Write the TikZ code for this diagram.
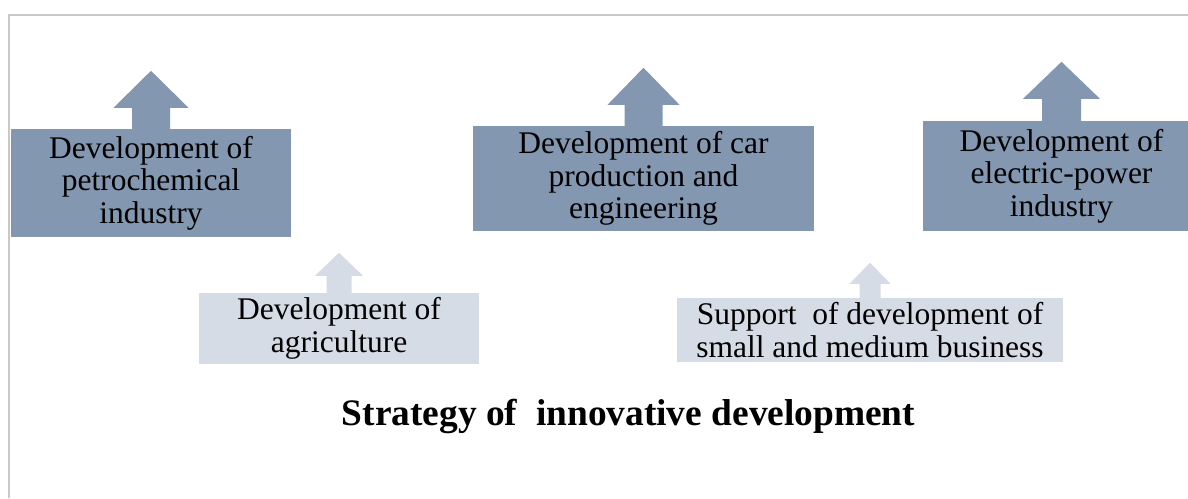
\documentclass[tikz,border=0pt]{standalone}
\usepackage{fontspec}
\setmainfont{Liberation Serif}
\definecolor{boxdark}{RGB}{132,151,176}
\definecolor{boxlight}{RGB}{214,220,229}
\definecolor{framegray}{RGB}{200,200,200}
\begin{document}
\begin{tikzpicture}[x=1pt,y=-1pt,
  boxtext/.style={font=\fontsize{31.5}{32.5}\selectfont, align=center, inner sep=0pt, text=black},
  darkbox/.style={boxtext, fill=boxdark},
  lightbox/.style={boxtext, fill=boxlight},
  titletext/.style={font=\fontsize{37.4}{40}\selectfont\bfseries, inner sep=0pt, anchor=base},
  framestyle/.style={draw=framegray, line width=1.5pt},
  % block arrow pointing up: {head half-width}{shaft half-width}{shaft length}{head length}
  pics/uparrow/.style n args={4}{code={
    \path[pic actions] (-#2,0.5) -- (-#2,-#3) -- (-#1,-#3) -- (0,-#3-#4)
      -- (#1,-#3) -- (#2,-#3) -- (#2,0.5) -- cycle;
  }}
]
\useasboundingbox (0,0) rectangle (1188,498);
\clip (0,0) rectangle (1188,498);
\fill[white] (0,0) rectangle (1188,498);

% frame
\draw[framestyle] (9,498) -- (9,15) -- (1188,15);

% upper row
\node[darkbox, minimum width=280pt, minimum height=108pt] (b1) at (151,183)
  {Development of\\petrochemical\\industry};
\node[darkbox, minimum width=341pt, minimum height=105pt] (b2) at (643.5,178.5)
  {Development of car\\production and\\engineering};
\node[darkbox, minimum width=277pt, minimum height=110pt] (b3) at (1061.5,176)
  {Development of\\electric-power\\industry};

% lower row
\node[lightbox, minimum width=280pt, minimum height=71pt] (b4) at (339,328.5)
  {Development of\\agriculture};
\node[lightbox, minimum width=386pt, minimum height=64pt] (b5) at (870,330)
  {Support\ \ of development of\\small and medium business};

% arrows
\pic[fill=boxdark] at (b1.north) {uparrow={37.5}{19}{21}{37}};
\pic[fill=boxdark] at (b2.north) {uparrow={36}{19}{21}{37}};
\pic[fill=boxdark] at (b3.north) {uparrow={38.5}{19.5}{22}{37}};
\pic[fill=boxlight] at (b4.north) {uparrow={24}{12.5}{17}{23}};
\pic[fill=boxlight] at (b5.north) {uparrow={20.5}{10.5}{14}{21}};

% title
\node[titletext] (title) at (628.5,425) {Strategy of\ \ innovative development};
\end{tikzpicture}
\end{document}
